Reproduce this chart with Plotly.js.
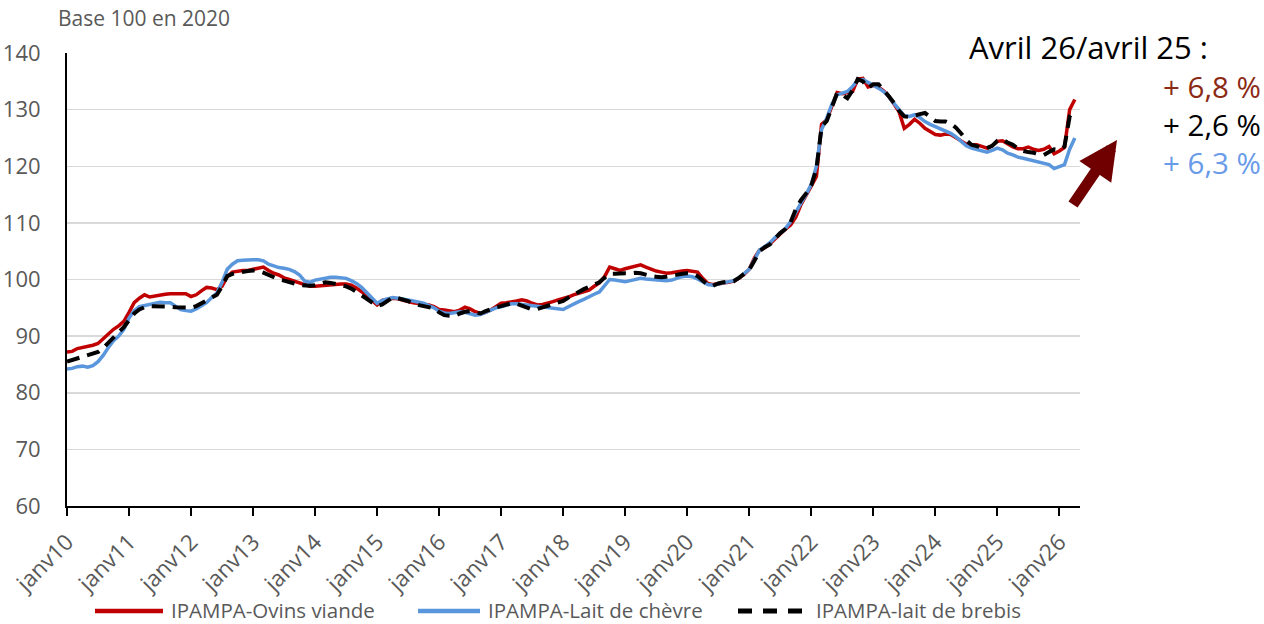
<!DOCTYPE html>
<html>
<head>
<meta charset="utf-8">
<script src="https://cdn.plot.ly/plotly-3.0.1.min.js"></script>
<style>
  html, body { margin: 0; padding: 0; background: #ffffff; }
  #chart { width: 1264px; height: 624px; }
</style>
</head>
<body>
<div id="chart"></div>
<script>
// Tick labels (one per January, 2010 to 2026)
const tickLabels = ["janv10","janv11","janv12","janv13","janv14","janv15","janv16","janv17",
  "janv18","janv19","janv20","janv21","janv22","janv23","janv24","janv25","janv26"];

// Series names
const seriesNames = ["IPAMPA-Ovins viande", "IPAMPA-Lait de chèvre", "IPAMPA-lait de brebis"];

// IPAMPA-Ovins viande (monthly, Jan 2010 -> Apr 2026)
const ovinsViande = [
  87.2, 87.3, 87.8, 88.0, 88.1, 88.4, 88.7, 89.6, 90.5, 91.2, 91.8, 92.6,
  94.2, 95.9, 96.7, 97.3, 96.9, 97.1, 97.3, 97.4, 97.5, 97.5, 97.6, 97.5,
  97.0, 97.3, 98.0, 98.6, 98.5, 98.2, 98.8, 100.5, 101.3, 101.5, 101.6, 101.6,
  101.8, 102.1, 102.2, 101.6, 101.1, 100.8, 100.3, 100.0, 99.7, 99.3, 99.0, 98.8,
  98.8, 98.9, 99.0, 99.1, 99.2, 99.2, 99.2, 99.0, 98.5, 97.9, 97.2, 96.3,
  95.5, 96.3, 96.5, 96.7, 96.6, 96.3, 96.1, 95.9, 95.8, 95.7, 95.5, 95.2,
  94.7, 94.6, 94.4, 94.3, 94.6, 95.1, 94.8, 94.3, 94.0, 94.2, 94.6, 95.2,
  95.8, 95.9, 96.0, 96.2, 96.4, 96.2, 95.8, 95.5, 95.6, 95.8, 96.1, 96.4,
  96.6, 96.9, 97.3, 97.6, 97.9, 98.1, 98.8, 99.4, 100.5, 102.2, 101.9, 101.6,
  101.9, 102.1, 102.4, 102.6, 102.2, 101.8, 101.5, 101.3, 101.1, 101.2, 101.4, 101.5,
  101.6, 101.5, 101.3, 100.2, 99.3, 99.1, 99.3, 99.4, 99.5, 99.7, 100.2, 100.9,
  101.8, 103.8, 105.2, 105.6, 106.3, 107.2, 108.1, 108.9, 109.6, 111.0, 113.2, 115.0,
  116.5, 118.2, 127.4, 128.2, 130.5, 133.0, 132.8, 133.0, 133.2, 135.4, 135.5, 134.0,
  134.3, 134.0, 133.3, 132.4, 131.0, 129.6, 126.7, 127.4, 128.3, 127.6, 126.7, 126.1,
  125.6, 125.5, 125.7, 125.6, 125.0, 124.5, 123.9, 123.8, 123.8, 123.5, 123.2, 123.6,
  124.4, 124.5, 124.0, 123.4, 123.1, 123.1, 123.4, 123.0, 122.8, 123.0, 123.5, 122.2,
  122.7, 123.3, 130.0, 131.8
];

// IPAMPA-Lait de chèvre
const laitChevre = [
  84.2, 84.3, 84.6, 84.7, 84.5, 84.8, 85.5, 86.6, 88.0, 89.2, 90.0, 91.2,
  93.2, 94.5, 95.2, 95.4, 95.7, 95.9, 96.0, 95.9, 95.9, 95.3, 94.7, 94.5,
  94.4, 94.8, 95.3, 95.9, 96.8, 97.6, 99.5, 101.8, 102.7, 103.3, 103.4, 103.5,
  103.5, 103.5, 103.3, 102.7, 102.4, 102.1, 102.0, 101.8, 101.4, 100.8, 99.7, 99.5,
  99.9, 100.1, 100.3, 100.4, 100.4, 100.3, 100.2, 99.8, 99.3, 98.6, 97.7, 96.8,
  95.8, 96.3, 96.6, 96.8, 96.7, 96.6, 96.4, 96.2, 96.0, 95.8, 95.4, 95.0,
  94.4, 94.1, 94.0, 94.1, 94.3, 94.2, 93.9, 93.7, 93.8, 94.2, 94.6, 95.0,
  95.2, 95.5, 95.7, 95.7, 95.6, 95.5, 95.4, 95.3, 95.1, 95.0, 94.9, 94.8,
  94.7, 95.2, 95.7, 96.1, 96.5, 97.0, 97.4, 97.8, 98.8, 100.0, 99.9, 99.7,
  99.6, 99.8, 100.0, 100.2, 100.1, 100.0, 99.9, 99.8, 99.8, 99.9, 100.2, 100.5,
  100.6, 100.5, 100.1, 99.6, 99.1, 99.0, 99.2, 99.4, 99.6, 99.8, 100.3, 101.0,
  101.8, 103.5, 105.2, 105.8, 106.5, 107.4, 108.3, 109.0, 110.2, 112.0, 113.5, 115.0,
  116.8, 120.0, 126.5, 128.5, 131.0, 132.6, 132.9, 133.2, 134.1, 135.2, 135.3, 134.8,
  134.4, 133.8, 133.2, 132.3, 131.1, 130.0, 128.9, 128.8, 129.1, 128.6, 127.9, 127.4,
  127.0, 126.7, 126.3, 125.8, 125.2, 124.4, 123.6, 123.2, 123.0, 122.7, 122.5, 122.8,
  123.2, 122.9, 122.3, 122.0, 121.6, 121.4, 121.2, 121.0, 120.7, 120.5, 120.3, 119.6,
  120.0, 120.3, 123.0, 125.0
];

// IPAMPA-lait de brebis
const laitBrebis = [
  85.5, 85.8, 86.1, 86.3, 86.6, 86.9, 87.2, 87.9, 88.8, 89.9, 90.8, 91.6,
  92.8, 94.0, 94.7, 95.1, 95.3, 95.3, 95.2, 95.2, 95.2, 95.1, 95.1, 95.0,
  95.0, 95.3, 95.8, 96.4, 96.9, 97.3, 98.8, 100.6, 101.0, 101.2, 101.4, 101.5,
  101.6, 101.5, 101.2, 100.8, 100.4, 100.0, 99.8, 99.6, 99.3, 99.0, 98.9, 98.9,
  99.0, 99.2, 99.5, 99.4, 99.2, 99.0, 98.8, 98.4, 97.9, 97.2, 96.6, 96.0,
  95.3, 95.6, 96.3, 96.8, 96.7, 96.5, 96.2, 95.7, 95.5, 95.3, 95.2, 94.9,
  94.2, 93.7, 93.6, 93.6, 94.0, 94.3, 94.4, 94.2, 94.0, 94.4, 94.8, 95.1,
  95.3, 95.5, 95.8, 95.7, 95.4, 95.1, 94.7, 94.8, 95.1, 95.4, 95.7, 96.0,
  96.2, 96.8, 97.4, 97.8, 98.3, 98.7, 99.1, 99.5, 100.3, 101.0, 101.0, 101.1,
  101.1, 101.1, 101.2, 101.1, 100.8, 100.6, 100.5, 100.4, 100.5, 100.7, 100.9, 101.0,
  101.1, 101.0, 100.6, 99.8, 99.0, 98.9, 99.3, 99.5, 99.6, 99.7, 100.3, 101.0,
  101.7, 103.3, 105.0, 105.7, 106.2, 107.2, 108.2, 108.9, 110.1, 112.4, 114.0, 115.2,
  116.6, 119.5, 127.0, 128.0, 130.5, 132.9, 132.6, 132.0, 133.4, 135.4, 135.0, 133.8,
  134.5, 134.5, 133.5, 132.4, 131.2, 129.8, 128.8, 128.7, 129.0, 129.2, 129.4, 128.6,
  128.0, 127.9, 127.9, 127.5, 126.8, 125.8, 124.6, 123.8, 123.5, 123.3, 123.2, 123.6,
  124.5, 124.7, 124.2, 123.8, 123.1, 122.7, 122.5, 122.4, 122.1, 122.0, 122.5, 123.0,
  122.9, 123.5, 128.8, 130.0
];

// Month index (0 = janv 2010)
const months = ovinsViande.map((_, i) => i);
const tickVals = tickLabels.map((_, i) => i * 12);

const FONT = '"Open Sans", "Noto Sans", sans-serif';
const GREY = '#595959';
const RED = '#C00000', BLUE = '#5A96DC', BLACK = '#000000';

// plot area in pixels: left 67, right 1080, top 53, bottom 506
const L = 67, R = 1080, T = 53, B = 506;
const px = x => (x - L) / (R - L);
const py = y => (B - y) / (B - T);

const traces = [
  { x: months, y: ovinsViande, name: seriesNames[0], type: 'scatter', mode: 'lines',
    line: { color: RED, width: 3.5 } },
  { x: months, y: laitChevre, name: seriesNames[1], type: 'scatter', mode: 'lines',
    line: { color: BLUE, width: 3.5 } },
  { x: months, y: laitBrebis, name: seriesNames[2], type: 'scatter', mode: 'lines',
    line: { color: BLACK, width: 4, dash: '13px,8px' } }
];

// custom legend (line samples + labels) below the chart
const LY = 611;
const legendItems = [
  { x0: 95, x1: 163, tx: 170, color: RED, dash: 'solid', width: 4.5 },
  { x0: 418, x1: 480, tx: 487, color: BLUE, dash: 'solid', width: 4.5 },
  { x0: 738, x1: 808, tx: 815, color: BLACK, dash: '14px,11px', width: 5 }
];
const shapes = legendItems.map(it => ({
  type: 'line', xref: 'paper', yref: 'paper',
  x0: px(it.x0), x1: px(it.x1), y0: py(LY), y1: py(LY),
  line: { color: it.color, width: it.width, dash: it.dash }
}));
const legendLabels = legendItems.map((it, i) => ({
  xref: 'paper', yref: 'paper', x: px(it.tx), y: py(LY - 1), xanchor: 'left', yanchor: 'middle',
  text: seriesNames[i], showarrow: false, font: { family: FONT, size: 20.5, color: GREY },
  borderpad: 0
}));

const layout = {
  width: 1264, height: 624,
  margin: { l: L, r: 1264 - R, t: T, b: 624 - B, autoexpand: false },
  paper_bgcolor: '#ffffff', plot_bgcolor: '#ffffff',
  font: { family: FONT, color: GREY, size: 18 },
  showlegend: false,
  xaxis: {
    range: [0, 196], tickmode: 'array', tickvals: tickVals, ticktext: tickLabels,
    tickangle: -45, ticks: 'outside', ticklen: 8, tickwidth: 2, tickcolor: '#000000',
    showline: true, linecolor: '#000000', linewidth: 2, showgrid: false, zeroline: false,
    automargin: false, ticklabelstandoff: 4,
    tickfont: { family: FONT, size: 22.5, color: GREY }
  },
  yaxis: {
    range: [60, 140], dtick: 10, tick0: 60, ticks: '', showline: true, linecolor: '#000000',
    linewidth: 2, gridcolor: '#D9D9D9', gridwidth: 1.5, zeroline: false, automargin: false,
    tickfont: { family: FONT, size: 22, color: GREY }, ticklabelstandoff: 20
  },
  shapes: shapes,
  annotations: [
    { xref: 'paper', yref: 'paper', x: px(56), y: py(18), xanchor: 'left', yanchor: 'middle',
      text: 'Base 100 en 2020', showarrow: false, font: { family: FONT, size: 21, color: GREY } },
    { xref: 'paper', yref: 'paper', x: px(968), y: py(47), xanchor: 'left', yanchor: 'middle',
      text: 'Avril 26/avril 25 :', showarrow: false, font: { family: FONT, size: 31, color: '#000000' },
      borderpad: 0 },
    { xref: 'paper', yref: 'paper', x: px(1262), y: py(86), xanchor: 'right', yanchor: 'middle',
      text: '+ 6,8 %', showarrow: false, font: { family: FONT, size: 29.5, color: '#8B2A14' },
      borderpad: 0 },
    { xref: 'paper', yref: 'paper', x: px(1262), y: py(124), xanchor: 'right', yanchor: 'middle',
      text: '+ 2,6 %', showarrow: false, font: { family: FONT, size: 29.5, color: '#000000' },
      borderpad: 0 },
    { xref: 'paper', yref: 'paper', x: px(1262), y: py(162), xanchor: 'right', yanchor: 'middle',
      text: '+ 6,3 %', showarrow: false, font: { family: FONT, size: 29.5, color: '#6A9BE8' },
      borderpad: 0 },
    { xref: 'paper', yref: 'paper', x: px(1117), y: py(140), text: '', showarrow: true,
      axref: 'pixel', ayref: 'pixel', ax: -45, ay: 66, arrowhead: 2, arrowsize: 0.7,
      arrowwidth: 11, arrowcolor: '#700000', standoff: 0 }
  ].concat(legendLabels)
};

Plotly.newPlot('chart', traces, layout, { displayModeBar: false, staticPlot: true });
</script>
</body>
</html>
